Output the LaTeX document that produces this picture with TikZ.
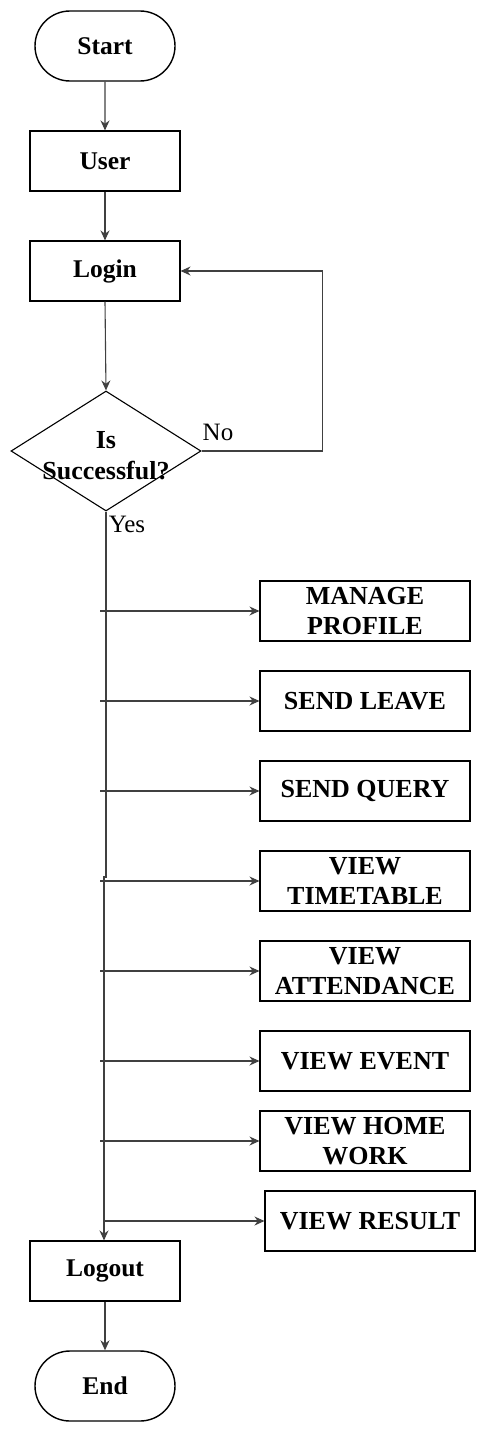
\documentclass[tikz,border=0pt]{standalone}
\usepackage{fontspec}
\setmainfont{Liberation Serif}
\usetikzlibrary{shapes.geometric,shapes.misc,arrows.meta}
\begin{document}
\begin{tikzpicture}[x=1pt,y=-1pt,
  conn/.style={draw=black!75,line width=1.1pt},
  arr/.style={conn,-{Stealth[length=10pt,width=9pt]}},
  term/.style={draw,line width=1.4pt,rounded rectangle,minimum width=140pt,minimum height=70pt,inner sep=0pt,font=\fontsize{25.5}{30}\selectfont\bfseries},
  box/.style={draw,line width=1.1pt,rectangle,minimum width=150pt,minimum height=60pt,inner sep=0pt,font=\fontsize{25.5}{30}\selectfont\bfseries},
  act/.style={draw,line width=1.1pt,rectangle,minimum width=210pt,minimum height=60pt,inner sep=0pt,align=center,font=\fontsize{26}{30.5}\selectfont\bfseries},
  lbl/.style={inner sep=0pt,font=\fontsize{25}{28}\selectfont}]
\useasboundingbox (0,0) rectangle (486,1432);
\node[term] (start) at (105,46) {Start};
\node[box] (user) at (105,161) {User};
\node[box] (login) at (105,271) {Login};
\node[diamond,draw,line width=1.1pt,minimum width=190pt,minimum height=120pt,inner sep=0pt,
  label={[align=center,font=\fontsize{26}{31}\selectfont\bfseries,yshift=-5pt]center:Is\\Successful?}] (dec) at (106,451) {};
\node[act] (a1) at (365,611) {MANAGE\\PROFILE};
\node[act] (a2) at (365,701) {SEND LEAVE};
\node[act] (a3) at (365,791) {SEND QUERY};
\node[act] (a4) at (365,881) {VIEW\\TIMETABLE};
\node[act] (a5) at (365,971) {VIEW\\ATTENDANCE};
\node[act] (a6) at (365,1061) {VIEW EVENT};
\node[act] (a7) at (365,1141) {VIEW HOME\\WORK};
\node[act] (a8) at (370,1221) {VIEW RESULT};
\node[box] (logout) at (105,1271) {Logout};
\node[term] (end) at (105,1386) {End};
\node[lbl] (no) at (218,432) {No};
\node[lbl] (yes) at (127,524) {Yes};
\coordinate (b1) at (100,611);
\coordinate (b2) at (100,701);
\coordinate (b3) at (100,791);
\coordinate (b4) at (100,881);
\coordinate (b5) at (100,971);
\coordinate (b6) at (100,1061);
\coordinate (b7) at (100,1141);
\coordinate (b8) at (105,1221);
\coordinate (j1) at (106,877);
\coordinate (j2) at (104,877);
\draw[arr] (start) -- (user);
\draw[arr] (user) -- (login);
\draw[arr] (login.south) -- (dec.north);
\draw[arr] (dec.east) -- ++(121,0) |- (login.east);
\draw[arr] (dec.south) -- (j1) -- (j2) -- (j2 |- logout.north);
\draw[arr] (logout) -- (end);
\foreach \i in {1,...,8} {\draw[arr] (b\i) -- (a\i.west);}
\end{tikzpicture}
\end{document}
